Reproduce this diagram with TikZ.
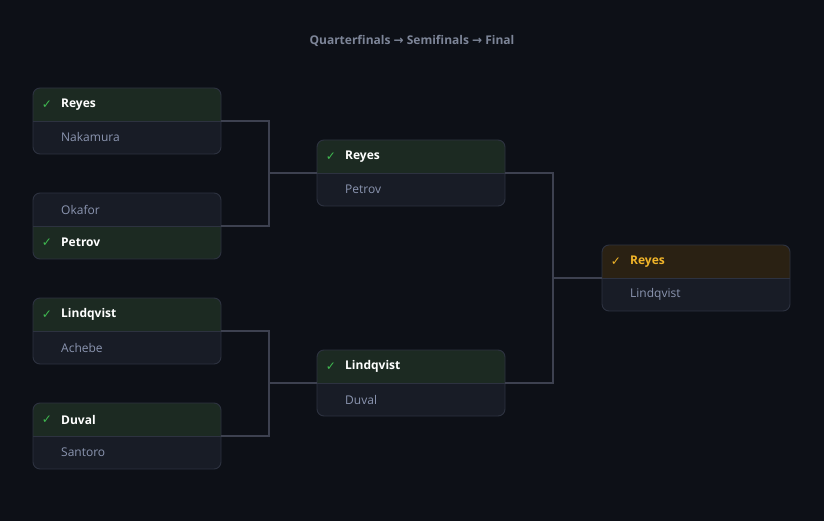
\documentclass[tikz,border=0pt]{standalone}
\usepackage{fontspec}
\setmainfont{Open Sans}
\newfontfamily\symf{DejaVu Sans}
\begin{document}
\definecolor{bg}{HTML}{0D1017}
\definecolor{boxfill}{HTML}{181C26}
\definecolor{boxline}{HTML}{2D3240}
\definecolor{winfill}{HTML}{1C2A22}
\definecolor{goldfill}{HTML}{2A2113}
\definecolor{lose}{HTML}{8B95B0}
\definecolor{grn}{HTML}{3FB950}
\definecolor{gold}{HTML}{F0B429}
\definecolor{conn}{HTML}{3D4150}
\definecolor{ttl}{HTML}{7D8598}
\newcommand\mymatch[9]{% name,x,y,top,bottom,winner(t/b),fillcolor,checkcolor,wintextcolor
  \fill[boxfill,rounded corners=7] (#2,#3) rectangle ++(188,66);
  \if t#6
    \fill[#7] (#2,#3+33) [rounded corners=7]-- (#2,#3) -- (#2+188,#3) [sharp corners]-- (#2+188,#3+33) -- cycle;
  \else
    \fill[#7] (#2,#3+33) [rounded corners=7]-- (#2,#3+66) -- (#2+188,#3+66) [sharp corners]-- (#2+188,#3+33) -- cycle;
  \fi
  \node[box] (#1) at (#2+94,#3+33) {};
  \draw[boxline] (#2,#3+33) -- (#2+188,#3+33);
  \coordinate (#1d) at (#2+188,#3+33);
  \coordinate (#1w) at (#2,#3+33);
  \if t#6
    \node[chk,text=#8] (#1c) at (#2+14,#3+16.5) {✓};
    \node[win,text=#9] (#1t) at (#2+28,#3+16.5) {#4};
    \node[los] (#1b) at (#2+28,#3+49.5) {#5};
  \else
    \node[los] (#1t) at (#2+28,#3+16.5) {#4};
    \node[chk,text=#8] (#1c) at (#2+14,#3+49.5) {✓};
    \node[win,text=#9] (#1b) at (#2+28,#3+49.5) {#5};
  \fi
}
\begin{tikzpicture}[x=1pt,y=-1pt,
  box/.style={draw=boxline,line width=0.9pt,rounded corners=7,minimum width=188pt,minimum height=66pt,inner sep=0},
  win/.style={anchor=west,inner sep=0,font=\fontsize{12}{14}\selectfont\bfseries},
  los/.style={anchor=west,inner sep=0,font=\fontsize{12}{14}\selectfont,text=lose},
  chk/.style={inner sep=0,font=\symf\fontsize{12}{14}\selectfont},
  cn/.style={draw=conn,line width=1.4pt}]
\fill[bg] (0,0) rectangle (824,521);
\useasboundingbox (0,0) rectangle (824,521);
\node[text=ttl,font=\fontsize{12}{14}\selectfont\bfseries] (title) at (412,41) {Quarterfinals {\symf→} Semifinals {\symf→} Final};
\mymatch{q1}{33}{88}{Reyes}{Nakamura}{t}{winfill}{grn}{white}
\mymatch{q2}{33}{193}{Okafor}{Petrov}{b}{winfill}{grn}{white}
\mymatch{q3}{33}{298}{Lindqvist}{Achebe}{t}{winfill}{grn}{white}
\mymatch{q4}{33}{403}{Duval}{Santoro}{t}{winfill}{grn}{white}
\mymatch{s1}{317}{140}{Reyes}{Petrov}{t}{winfill}{grn}{white}
\mymatch{s2}{317}{350}{Lindqvist}{Duval}{t}{winfill}{grn}{white}
\mymatch{f}{602}{245}{Reyes}{Lindqvist}{t}{goldfill}{gold}{gold}
\draw[cn] (q1d) -- ++(48,0) |- (s1w);
\draw[cn] (q2d) -- ++(48,0) |- (s1w);
\draw[cn] (q3d) -- ++(48,0) |- (s2w);
\draw[cn] (q4d) -- ++(48,0) |- (s2w);
\draw[cn] (s1d) -- ++(48,0) |- (fw);
\draw[cn] (s2d) -- ++(48,0) |- (fw);
\end{tikzpicture}
\end{document}
